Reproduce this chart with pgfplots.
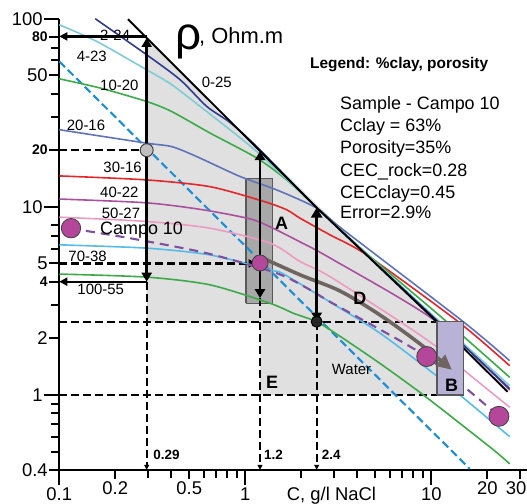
\documentclass[border=0pt]{standalone}
\usepackage{pgfplots}
\pgfplotsset{compat=1.18}
\usetikzlibrary{arrows.meta}
\usepackage{fontspec}
\setmainfont{Liberation Sans}

\definecolor{navyc}{HTML}{2E3B8F}
\definecolor{cyanc}{HTML}{7ECBD3}
\definecolor{greenc}{HTML}{3DAA4A}
\definecolor{slatec}{HTML}{5F73B8}
\definecolor{redc}{HTML}{E3262A}
\definecolor{purplec}{HTML}{A9509F}
\definecolor{pinkc}{HTML}{EE9BC2}
\definecolor{lbluec}{HTML}{55BCE8}
\definecolor{waterc}{HTML}{1C8ED8}
\definecolor{campofit}{HTML}{8050A0}
\definecolor{campo}{HTML}{B4479A}
\definecolor{dbrown}{HTML}{6E6561}
\definecolor{lgray}{HTML}{E0E0E0}
\definecolor{agray}{HTML}{A8A8A8}
\definecolor{bfill}{HTML}{B8B2D6}

\newcommand{\fs}[1]{\fontsize{#1}{#1}\selectfont}
\newcommand{\bl}[1]{{\fs{14}\bfseries #1}}

\begin{document}
\begin{tikzpicture}
\path[use as bounding box] (-59.3bp,-34.2bp) rectangle (467.7bp,469.8bp);
\begin{axis}[
  xmode=log, ymode=log,
  xmin=0.1, xmax=32.7, ymin=0.4, ymax=100,
  scale only axis, width=467.7bp, height=451.1bp,
  axis x line*=bottom, axis y line*=left,
  axis line style={line width=2.2bp, black},
  tick align=outside,
  major tick length=15bp, minor tick length=8bp,
  every tick/.style={black, line width=2bp},
  xtick={0.1,1,10}, xticklabels={0.1,1,10},
  extra x ticks={0.2,0.5,20,30}, extra x tick labels={0.2,0.5,20,{\kern-8bp 30}},
  extra x tick style={major tick length=9bp},
  minor xtick={0.3,0.4,0.6,0.7,0.8,0.9,2,3,4,5,6,7,8,9},
  ytick={1,10,100}, yticklabels={1,10,100},
  extra y ticks={0.4,2,4,5,20,50,80},
  extra y tick labels={0.4,2,\bl{4},5,\bl{20},50,\bl{80}},
  extra y tick style={major tick length=10bp},
  minor ytick={0.5,0.6,0.7,0.8,0.9,3,6,7,8,30,40,60,70},
  ticklabel style={font=\fs{18.5}},
  xticklabel style={inner ysep=3bp},
  yticklabel style={inner xsep=1.5bp},
  clip=false,
  dsh/.style={black, line width=2.1bp, dash pattern=on 8bp off 4bp},
  crv/.style={line width=1.6bp, smooth, tension=0.45},
  tipS/.style={-{Triangle[length=5bp,width=5bp]}},
]
% shaded zone and water box
\addplot[fill=lgray, draw=none] coordinates {(0.295,79) (10.7,2.45) (0.295,2.45)};
\addplot[fill=lgray, draw=none] coordinates {(1.2,1) (10.7,1) (10.7,2.45) (1.2,2.45)};
% box A
\addplot[fill=agray, draw=black!65, line width=1.2bp] coordinates {(1.009,3.07) (1.40,3.07) (1.40,14.2) (1.009,14.2) (1.009,3.07)};

% dashed guides
\addplot[dsh] coordinates {(0.1,20) (0.28,20)};
\addplot[dsh, -{Triangle[length=8bp,width=8bp]}] coordinates {(0.1,5) (1.15,5)};
\addplot[dsh] coordinates {(0.1,2.45) (10.7,2.45)};
\addplot[dsh] coordinates {(0.1,1) (10.7,1)};
\addplot[dsh, tipS] coordinates {(0.295,4) (0.295,0.4)};
\addplot[dsh, tipS] coordinates {(1.2,3.27) (1.2,0.4)};
\addplot[dsh, tipS] coordinates {(2.42,2.45) (2.42,0.4)};

% water line
\addplot[waterc, line width=2.1bp, dash pattern=on 8bp off 4bp] coordinates {(0.1,59.3) (16.1,0.405)};

% curves %clay-porosity
\addplot[crv, greenc] coordinates {(0.1,4.39) (0.295,4.23) (0.645,3.85) (1.36,3.07) (1.81,2.72) (2.42,2.45) (3.23,2.05) (5.3,1.47) (9.06,1.0) (21.1,0.52) (26.4,0.43)};
\addplot[crv, lbluec] coordinates {(0.1,6.28) (0.295,6.03) (0.645,5.55) (1.36,4.62) (1.6,4.4) (2.85,3.12) (5.3,2.13) (10.5,1.28) (14.6,0.98) (26.4,0.60)};
\addplot[crv, pinkc] coordinates {(0.1,8.81) (0.295,8.36) (0.645,7.70) (1.36,6.41) (1.97,5.12) (2.85,4.26) (6.93,2.42) (10.7,1.80) (14.9,1.36) (26.4,0.86)};
\addplot[crv, purplec] coordinates {(0.1,11.0) (0.295,10.5) (0.594,9.64) (1.06,8.63) (1.36,7.83) (1.97,6.51) (2.85,5.35) (10.3,2.51) (26.4,1.06)};
\addplot[crv, redc] coordinates {(0.1,14.6) (0.295,13.9) (0.645,12.8) (1.25,10.7) (1.67,9.64) (1.97,8.7) (2.85,7.1) (4.49,5.55) (13.96,2.45) (26.4,1.43)};
\addplot[crv, slatec] coordinates {(0.1,25.7) (0.295,21.8) (0.402,20.9) (0.548,18.5) (0.936,14.5) (1.475,12.3) (2.42,9.84) (3.37,7.54) (14.86,2.45) (26.4,1.52)};
\addplot[crv, greenc] coordinates {(0.1,47.9) (0.166,42.8) (0.295,36.3) (0.402,32.1) (0.645,24.7) (1.15,18.2) (1.67,13.9) (2.42,9.9) (4.49,5.65) (12.1,2.45) (26.4,1.24)};
\addplot[crv, cyanc] coordinates {(0.1,92.9) (0.159,75.7) (0.295,53.5) (0.402,44.6) (0.62,32.1) (1.15,19.7) (2.42,9.9) (4.49,5.6) (11.1,2.45) (26.4,1.12)};
\addplot[crv, navyc] coordinates {(0.156,100) (0.295,64.3) (0.446,47.4) (0.62,34.2) (0.83,28.0) (1.15,20.9) (2.42,9.9) (4.49,5.56) (10.9,2.45) (26.4,1.08)};
\addplot[black, line width=1.9bp] coordinates {(0.234,99.3) (2.42,9.9) (10.7,2.45) (25.7,1.04)};

% Campo 10 fit
\addplot[campofit, line width=2.1bp, dash pattern=on 9bp off 6bp, smooth, tension=0.45] coordinates {(0.139,7.45) (0.25,6.76) (0.62,5.67) (1.475,4.44) (2.23,3.62) (2.85,3.13) (6.22,2.04) (7.97,1.77) (9.45,1.6) (15.8,1.06) (23.1,0.77)};

% box B
\addplot[fill=bfill, draw=black!65, line width=1.5bp] coordinates {(10.7,1) (14.86,1) (14.86,2.45) (10.7,2.45) (10.7,1)};

% trend D
\addplot[dbrown, line width=3.6bp, smooth, tension=0.5, -{Triangle[length=15bp,width=14bp]}] coordinates {(1.25,5.33) (1.97,4.35) (3.23,3.57) (5.3,2.66) (8.69,1.87) (12.9,1.36)};

% black arrows
\addplot[black, line width=2.7bp, {Triangle[length=9bp,width=10bp]}-{Triangle[length=9bp,width=10bp]}] coordinates {(0.295,4) (0.295,79)};
\addplot[black, line width=2.3bp, -{Triangle[length=8bp,width=8bp]}] coordinates {(0.295,80.5) (0.1,80.5)};
\addplot[black, line width=2.3bp, -{Triangle[length=8bp,width=8bp]}] coordinates {(0.295,4) (0.1,4)};
\addplot[black, line width=2.7bp, {Triangle[length=9bp,width=10bp]}-{Triangle[length=9bp,width=10bp]}] coordinates {(1.2,3.27) (1.2,19.8)};
\addplot[black, line width=2.7bp, {Triangle[length=9bp,width=10bp]}-{Triangle[length=10bp,width=11bp]}] coordinates {(2.42,2.45) (2.42,9.9)};

% markers
\addplot[only marks, mark=*, mark size=6.5bp, mark options={fill=black!25, draw=black!75, line width=1bp}] coordinates {(0.295,20)};
\addplot[only marks, mark=*, mark size=5.5bp, mark options={fill=black!85, draw=black, line width=1bp}] coordinates {(2.42,2.45)};
\addplot[only marks, mark=*, mark size=9.7bp, mark options={fill=campo, draw=black!75, line width=0.8bp}] coordinates {(0.1156,7.70)};
\addplot[only marks, mark=*, mark size=8bp, mark options={fill=campo, draw=black!75, line width=0.8bp}] coordinates {(1.2,5.03)};
\addplot[only marks, mark=*, mark size=10bp, mark options={fill=campo, draw=black!75, line width=0.8bp}] coordinates {(9.45,1.60) (23.1,0.77)};
\end{axis}

\begin{scope}[x=1bp, y=-1bp, shift={(-59.3bp,469.8bp)}]
\tikzset{every node/.style={anchor=base west, inner sep=0pt}}
\node[font=\fs{46}] at (175,50) {ρ};
\node[font=\fs{22}] at (199,43.3) {, Ohm.m};
\node[font=\fs{15.5}\bfseries] at (310,68.3) {Legend: \%clay, porosity};
\node[font=\fs{18}] at (340,110) {Sample - Campo 10};
\node[font=\fs{18}] at (340,131.7) {Cclay = 63\%};
\node[font=\fs{18}] at (340,153.3) {Porosity=35\%};
\node[font=\fs{18}] at (340,176.7) {CEC\_rock=0.28};
\node[font=\fs{18}] at (340,198.3) {CECclay=0.45};
\node[font=\fs{18}] at (340,218.3) {Error=2.9\%};
\node[font=\fs{15}] at (100,41) {2-24};
\node[font=\fs{15}] at (76.7,61.7) {4-23};
\node[font=\fs{15}] at (100,91) {10-20};
\node[font=\fs{15}] at (201.7,87.3) {0-25};
\node[font=\fs{15}] at (66.7,130.7) {20-16};
\node[font=\fs{15}] at (103.3,172.7) {30-16};
\node[font=\fs{15}] at (100,197.3) {40-22};
\node[font=\fs{15}] at (101.7,218.3) {50-27};
\node[font=\fs{18}] at (100,235) {Campo 10};
\node[font=\fs{15}] at (68.3,261.7) {70-38};
\node[font=\fs{15}] at (77.3,295) {100-55};
\node[font=\fs{18}\bfseries] at (275,229.3) {A};
\node[font=\fs{18}\bfseries] at (353.3,305) {D};
\node[font=\fs{18}\bfseries] at (266,388.3) {E};
\node[font=\fs{18}\bfseries] at (445,392) {B};
\node[font=\fs{15}] at (331.7,375) {Water};
\node[font=\fs{13.5}\bfseries] at (153.3,460) {0.29};
\node[font=\fs{13.5}\bfseries] at (264,460) {1.2};
\node[font=\fs{13.5}\bfseries] at (321.7,460) {2.4};
\node[font=\fs{18.5}] at (286.7,500.5) {C, g/l NaCl};
\end{scope}
\end{tikzpicture}
\end{document}
